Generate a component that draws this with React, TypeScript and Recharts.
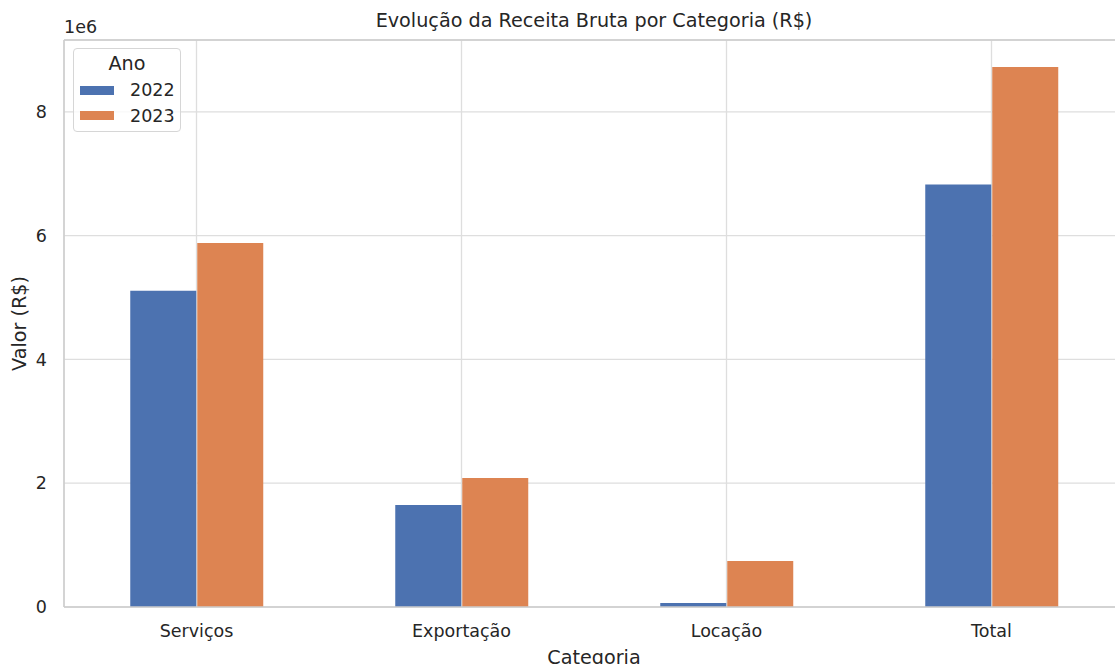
import { BarChart, Bar, XAxis, YAxis, CartesianGrid, ReferenceLine } from "recharts";

const categories = ["Serviços", "Exportação", "Locação", "Total"];
const receita2022 = [5110000, 1650000, 65000, 6825000];
const receita2023 = [5880000, 2085000, 745000, 8725000];
const yTicks = [0, 2000000, 4000000, 6000000, 8000000];
const years = ["2022", "2023"];

const COLORS = ["#4c72b0", "#dd8452"];
const FONT = "'DejaVu Sans', sans-serif";
const TEXT = "#262626";
const TICK_SIZE = 17.5;
const LABEL_SIZE = 19.2;
const Y_MAX = Math.max(...receita2023, ...receita2022) * 1.05;

const data = categories.map((cat, i) => ({
  categoria: cat,
  "2022": receita2022[i],
  "2023": receita2023[i],
}));

// legend box like matplotlib's (title + patches)
function LegendBox() {
  return (
    <div
      style={{
        position: "absolute",
        left: 73,
        top: 48,
        width: 108,
        height: 84,
        border: "1px solid #d6d6d6",
        borderRadius: 4,
        background: "rgba(255,255,255,0.8)",
        fontFamily: FONT,
        color: TEXT,
        boxSizing: "border-box",
      }}
    >
      <div style={{ position: "absolute", top: 4, left: 0, width: "100%", textAlign: "center", fontSize: LABEL_SIZE, lineHeight: "22px" }}>
        Ano
      </div>
      {years.map((y, i) => (
        <div key={y} style={{ position: "absolute", left: 6, top: 33 + i * 25.5, display: "flex", alignItems: "center", height: 16 }}>
          <div style={{ width: 34, height: 9, background: COLORS[i] }} />
          <span style={{ marginLeft: 16, fontSize: TICK_SIZE, lineHeight: "16px" }}>{y}</span>
        </div>
      ))}
    </div>
  );
}

export default function App() {
  return (
    <div style={{ position: "fixed", left: 0, top: 0, width: 1115, height: 664, overflow: "hidden", background: "#fff" }}>
      <div
        style={{
          position: "absolute",
          left: 0,
          width: 1188,
          top: 9,
          textAlign: "center",
          fontFamily: FONT,
          fontSize: LABEL_SIZE,
          color: TEXT,
        }}
      >
        Evolução da Receita Bruta por Categoria (R$)
      </div>
      <div style={{ position: "absolute", left: 64, top: 17, fontFamily: FONT, fontSize: TICK_SIZE, color: TEXT }}>1e6</div>
      <BarChart
        width={1130}
        height={664}
        data={data}
        margin={{ top: 40, right: 6, left: 0, bottom: 0 }}
        barCategoryGap="25%"
        barGap={1}
        style={{ fontFamily: FONT }}
      >
        <CartesianGrid stroke="#dedede" strokeWidth={1.3} />
        <XAxis
          dataKey="categoria"
          height={57}
          tickLine={false}
          tickSize={0}
          tickMargin={18}
          axisLine={{ stroke: "#cccccc", strokeWidth: 1.5 }}
          tick={{ fill: TEXT, fontSize: TICK_SIZE }}
          label={{ value: "Categoria", position: "insideBottom", offset: 0, fill: TEXT, fontSize: LABEL_SIZE }}
        />
        <YAxis
          width={64}
          domain={[0, Y_MAX]}
          ticks={yTicks}
          tickFormatter={(v: number) => String(v / 1000000)}
          tickLine={false}
          tickSize={0}
          tickMargin={17}
          axisLine={{ stroke: "#cccccc", strokeWidth: 1.5 }}
          tick={{ fill: TEXT, fontSize: TICK_SIZE }}
          allowDataOverflow
          label={{ value: "Valor (R$)", angle: -90, position: "insideLeft", offset: 19, fill: TEXT, fontSize: LABEL_SIZE, style: { textAnchor: "middle" } }}
        />
        <ReferenceLine y={Y_MAX} stroke="#cccccc" strokeWidth={1.5} />
        <Bar dataKey="2022" fill={COLORS[0]} isAnimationActive={false} />
        <Bar dataKey="2023" fill={COLORS[1]} isAnimationActive={false} />
      </BarChart>
      <LegendBox />
    </div>
  );
}
